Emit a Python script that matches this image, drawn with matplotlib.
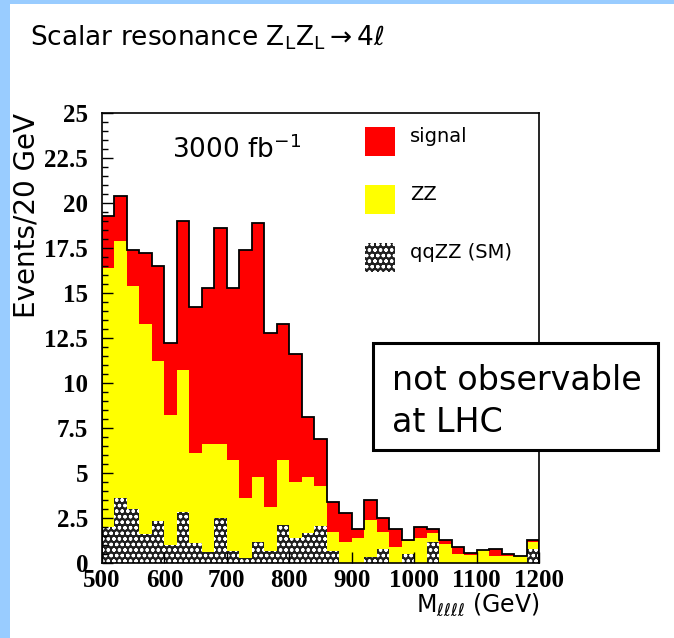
import numpy as np
import matplotlib
matplotlib.use("Agg")
import matplotlib.pyplot as plt
from matplotlib.patches import Rectangle
from matplotlib.ticker import MultipleLocator

# 4-lepton mass, 20 GeV bins from 500 to 1200 GeV
bin_edges = np.arange(500, 1201, 20)

qqzz = [2.0, 3.6, 3.0, 1.6, 2.35, 1.0, 2.85, 1.1, 0.6, 2.5, 0.65, 0.3, 1.15, 0.65,
        2.1, 1.4, 1.65, 2.05, 0.65, 0.0, 0.0, 0.35, 0.8, 0.0, 0.5, 0.0, 1.15, 0.0,
        0.0, 0.0, 0.0, 0.0, 0.0, 0.0, 0.8]
zz = [14.4, 14.3, 12.4, 11.7, 8.85, 7.2, 7.85, 5.0, 6.0, 4.1, 5.05, 3.3, 3.65, 2.45,
      3.6, 3.1, 3.15, 2.25, 1.05, 1.15, 1.4, 2.05, 0.9, 0.9, 0.7, 1.4, 0.5, 1.05,
      0.5, 0.45, 0.7, 0.4, 0.4, 0.4, 0.35]
signal = [2.9, 2.5, 2.0, 3.9, 5.3, 4.0, 8.3, 8.1, 8.7, 12.0, 9.6, 13.8, 14.1, 9.7,
          7.6, 7.1, 3.3, 2.6, 1.7, 1.65, 0.5, 1.1, 0.8, 1.0, 0.1, 0.6, 0.25, 0.25,
          0.4, 0.1, 0.0, 0.4, 0.1, 0.0, 0.15]

legend_labels = ["signal", "ZZ", "qqZZ (SM)"]

plt.rcParams["hatch.linewidth"] = 0.9

fig = plt.figure(figsize=(6.74, 6.38), dpi=100)
fig.patch.set_facecolor("#99CCFF")
fig.add_artist(Rectangle((10 / 674, 0), 1, 1 - 4 / 638, transform=fig.transFigure,
                         facecolor="white", edgecolor="none", zorder=-1))

ax = fig.add_axes([102 / 674, 1 - 563 / 638, 437 / 674, 450 / 638])

left = bin_edges[:-1]
qq_arr = np.array(qqzz)
zz_arr = np.array(zz)
sig_arr = np.array(signal)

ax.bar(left, qq_arr, width=20, align="edge", facecolor="#202020",
       edgecolor="white", hatch="ooo", linewidth=0)
ax.bar(left, zz_arr, width=20, align="edge", bottom=qq_arr,
       color="#FFFF00", linewidth=0)
ax.bar(left, sig_arr, width=20, align="edge", bottom=qq_arr + zz_arr,
       color="#FF0000", linewidth=0)
ax.stairs(qq_arr + zz_arr + sig_arr, bin_edges, color="black", linewidth=1.3)

ax.set_xlim(500, 1200)
ax.set_ylim(0, 25)
ax.xaxis.set_major_locator(MultipleLocator(100))
ax.yaxis.set_major_locator(MultipleLocator(2.5))
ax.yaxis.set_minor_locator(MultipleLocator(0.5))
ax.yaxis.set_major_formatter(lambda v, p: f"{v:g}")
ax.tick_params(axis="y", which="major", direction="in", length=8, width=1, pad=10,
               right=False)
ax.tick_params(axis="y", which="minor", direction="in", length=4, width=1, right=False)
ax.tick_params(axis="x", direction="in", length=8, width=1, pad=4, top=False)
for lab in ax.get_xticklabels() + ax.get_yticklabels():
    lab.set_fontfamily("Liberation Serif")
    lab.set_fontweight("bold")
    lab.set_fontsize(18)
for s in ax.spines.values():
    s.set_linewidth(1.2)

ax.set_ylabel("Events/20 GeV", fontsize=20, loc="top")
ax.yaxis.set_label_coords(-0.14, 1.0)
ax.set_xlabel(r"M$_{\ell\ell\ell\ell}$ (GeV)", fontsize=17, loc="right")
ax.xaxis.set_label_coords(1.0, -0.064)

ax.text(0.16, 0.918, "3000 fb$^{-1}$", transform=ax.transAxes, fontsize=19,
        ha="left", va="center")

# legend drawn by hand
legend_styles = [dict(facecolor="#FF0000"), dict(facecolor="#FFFF00"),
                 dict(facecolor="#202020", edgecolor="white", hatch="ooo")]
for i, (lab, st) in enumerate(zip(legend_labels, legend_styles)):
    yc = 0.937 - i * 0.129
    ax.add_patch(Rectangle((0.602, yc - 0.033), 0.068, 0.066, transform=ax.transAxes,
                           linewidth=0, **st))
    ax.text(0.705, yc + 0.01, lab, transform=ax.transAxes, fontsize=14,
            ha="left", va="center")

fig.text(30 / 674, 1 - 45 / 638,
         r"Scalar resonance $\mathregular{Z_LZ_L \rightarrow 4\ell}$",
         fontsize=19, ha="left", va="baseline")

fig.add_artist(Rectangle((373 / 674, 1 - 450 / 638), 285 / 674, 107 / 638,
                         transform=fig.transFigure, facecolor="white",
                         edgecolor="black", linewidth=2.2, zorder=5))
fig.text(392 / 674, 1 - 390 / 638, "not observable", fontsize=24, ha="left",
         va="baseline", zorder=6)
fig.text(392 / 674, 1 - 432 / 638, "at LHC", fontsize=24, ha="left",
         va="baseline", zorder=6)

fig.savefig("out.png", dpi=100, facecolor=fig.get_facecolor())
